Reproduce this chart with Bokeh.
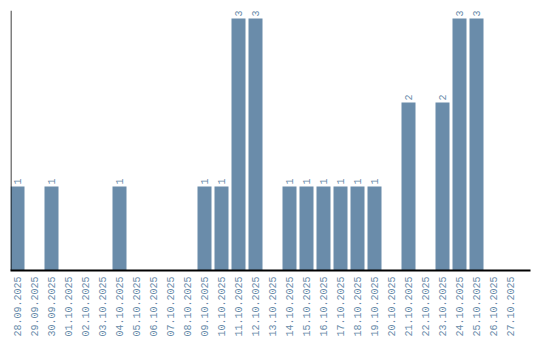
import math
from bokeh.plotting import figure
from bokeh.models import ColumnDataSource, Range1d, FixedTicker, Span
from bokeh.core.properties import value
from bokeh.embed import file_html
from bokeh.resources import INLINE

dates = ["28.09.2025", "29.09.2025", "30.09.2025", "01.10.2025", "02.10.2025",
         "03.10.2025", "04.10.2025", "05.10.2025", "06.10.2025", "07.10.2025",
         "08.10.2025", "09.10.2025", "10.10.2025", "11.10.2025", "12.10.2025",
         "13.10.2025", "14.10.2025", "15.10.2025", "16.10.2025", "17.10.2025",
         "18.10.2025", "19.10.2025", "20.10.2025", "21.10.2025", "22.10.2025",
         "23.10.2025", "24.10.2025", "25.10.2025", "26.10.2025", "27.10.2025"]
counts = [1, 0, 1, 0, 0, 0, 1, 0, 0, 0, 0, 1, 1, 3, 3, 0, 1, 1, 1, 1, 1, 1, 0, 2, 0, 2, 3, 3, 0, 0]

BAR = "#6a8caa"
FONT = "Liberation Mono"

idx = list(range(len(dates)))
src = ColumnDataSource(dict(x=idx, y=counts))
lab_x = [i for i, c in zip(idx, counts) if c > 0]
lab_y = [c for c in counts if c > 0]
lab_t = [str(c) for c in lab_y]
lsrc = ColumnDataSource(dict(x=lab_x, y=lab_y, t=lab_t))

p = figure(width=540, height=340, output_backend="svg", toolbar_location=None,
           x_range=Range1d(-7 / 17, 513 / 17), y_range=Range1d(0, 3.095),
           min_border_left=10, min_border_top=10, min_border_right=10, min_border_bottom=70)
p.vbar(x="x", top="y", width=14 / 17, source=src, color=BAR, line_color=None)
p.text(x="x", y="y", text="t", source=lsrc, angle=math.pi / 2,
       text_align="left", text_baseline="middle", y_offset=-2,
       text_font=value(FONT), text_font_size="10px", text_color=BAR)

p.outline_line_color = None
p.xgrid.grid_line_color = None
p.ygrid.grid_line_color = None

p.yaxis.visible = False
p.add_layout(Span(location=-6.5 / 17, dimension="height", line_color="black", line_width=1))

p.xaxis.ticker = FixedTicker(ticks=idx)
p.xaxis.major_label_overrides = {i: d for i, d in zip(idx, dates)}
p.xaxis.major_label_orientation = math.pi / 2
p.xaxis.major_tick_line_color = None
p.xaxis.major_tick_out = 0
p.xaxis.major_tick_in = 0
p.xaxis.minor_tick_line_color = None
p.xaxis.minor_tick_out = 0
p.xaxis.axis_line_color = "black"
p.xaxis.axis_line_width = 2
p.xaxis.major_label_text_font = FONT
p.xaxis.major_label_text_font_size = "10px"
p.xaxis.major_label_text_color = BAR
p.xaxis.major_label_standoff = 6

open("out.html", "w").write(file_html(p, INLINE))
